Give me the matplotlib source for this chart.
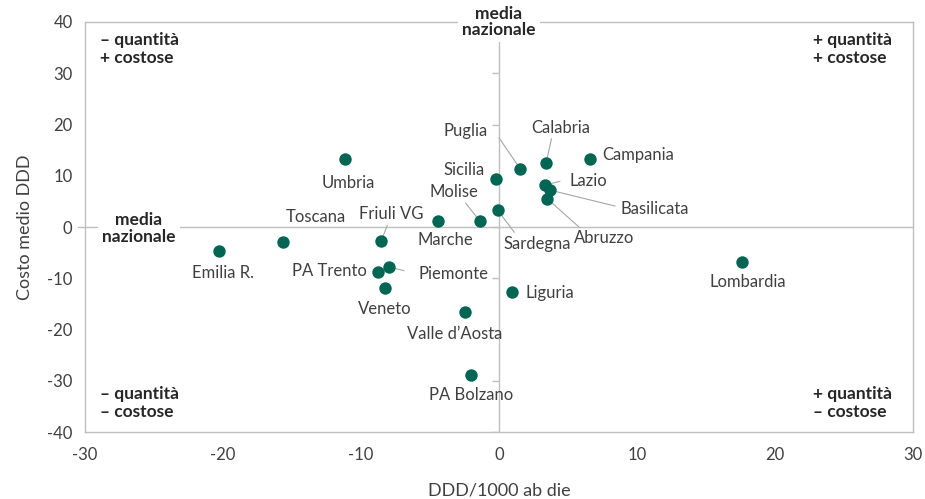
import numpy as np
import matplotlib.pyplot as plt

# Data ----------------------------------------------------
regioni = ['Emilia R.', 'Toscana', 'Umbria', 'Friuli VG', 'PA Trento',
           'Piemonte', 'Veneto', 'Marche', 'Molise', 'Sicilia', 'Sardegna',
           'Puglia', 'Calabria', 'Campania', 'Lazio', 'Basilicata',
           'Abruzzo', 'Liguria', "Valle d\u2019Aosta", 'PA Bolzano',
           'Lombardia']
ddd = [-20.3, -15.65, -11.15, -8.55, -8.8, -8.0, -8.3, -4.4, -1.4, -0.2,
       -0.1, 1.55, 3.4, 6.6, 3.3, 3.7, 3.5, 0.95, -2.5, -2.0, 17.6]
costo = [-4.7, -2.9, 13.3, -2.8, -8.8, -7.8, -11.8, 1.2, 1.2, 9.4, 3.3,
         11.3, 12.4, 13.3, 8.2, 7.2, 5.5, -12.6, -16.6, -28.9, -6.9]

# label position (x, y, ha) and optional leader start
lab_pos = {
    'Emilia R.': (-20.0, -8.9, 'center'),
    'Toscana': (-13.3, 1.9, 'center'),
    'Umbria': (-10.9, 8.5, 'center'),
    'Friuli VG': (-7.8, 2.5, 'center'),
    'PA Trento': (-9.6, -8.5, 'right'),
    'Piemonte': (-3.3, -9.1, 'center'),
    'Veneto': (-8.3, -15.9, 'center'),
    'Marche': (-3.9, -2.5, 'center'),
    'Molise': (-3.3, 6.9, 'center'),
    'Sicilia': (-2.5, 11.2, 'center'),
    'Sardegna': (2.8, -3.4, 'center'),
    'Puglia': (-2.4, 18.8, 'center'),
    'Calabria': (4.5, 19.4, 'center'),
    'Campania': (7.5, 14.0, 'left'),
    'Lazio': (5.1, 8.9, 'left'),
    'Basilicata': (8.8, 3.5, 'left'),
    'Abruzzo': (7.6, -2.1, 'center'),
    'Liguria': (1.95, -12.8, 'left'),
    "Valle d\u2019Aosta": (-3.2, -20.8, 'center'),
    'PA Bolzano': (-2.0, -32.7, 'center'),
    'Lombardia': (18.0, -10.8, 'center'),
}
leaders = {
    'Puglia': (0.0, 17.4),
    'Calabria': (3.8, 17.2),
    'Lazio': (4.4, 8.9),
    'Basilicata': (8.4, 4.1),
    'Abruzzo': (5.8, 0.0),
    'Sardegna': (1.1, -1.0),
    'Molise': (-2.4, 4.6),
    'Friuli VG': (-8.1, 0.3),
    'Piemonte': (-6.9, -8.5),
}

xticks = [-30, -20, -10, 0, 10, 20, 30]
yticks = [-40, -30, -20, -10, 0, 10, 20, 30, 40]

# Style ---------------------------------------------------
plt.rcParams['font.family'] = ['Lato', 'DejaVu Sans']
plt.rcParams['axes.unicode_minus'] = False
txt = '#404040'
grey = '#bfbfbf'
dot = '#006654'

fig = plt.figure(figsize=(9.25, 4.99), dpi=100)
ax = fig.add_axes([0.092, 0.134, 0.895, 0.822])
ax.set_xlim(-30, 30)
ax.set_ylim(-40, 40)

for sp in ax.spines.values():
    sp.set_color(grey)
    sp.set_linewidth(1)

# zero lines
ax.axhline(0, xmin=-0.008, color=grey, lw=1, zorder=1, clip_on=False)
ax.axvline(0, color=grey, lw=1, zorder=1)
ax.plot(np.full(len(yticks), 0.0), yticks, ls='none', marker=0,
        ms=5, mew=1, color=grey, zorder=1)

ax.set_xticks(xticks)
ax.set_yticks(yticks)
ax.tick_params(length=0, labelsize=12, labelcolor=txt)
ax.tick_params(axis='y', pad=9)
ax.tick_params(axis='x', pad=11)
ax.set_xlabel('DDD/1000 ab die', fontsize=13, color=txt, labelpad=14)
ax.set_ylabel('Costo medio DDD', fontsize=13, color=txt, labelpad=10)

# leader lines
for r, (lx, ly) in leaders.items():
    i = regioni.index(r)
    ax.plot([lx, ddd[i]], [ly, costo[i]], color='#a6a6a6', lw=0.8, zorder=2)

ax.scatter(ddd, costo, s=80, color=dot, zorder=3, linewidths=0)

for i, r in enumerate(regioni):
    x, y, ha = lab_pos[r]
    ax.text(x, y, r, ha=ha, va='center', fontsize=12, color=txt, zorder=4)

# reference labels
bb = dict(facecolor='white', edgecolor='none', pad=3)
ax.text(0, 40.0, 'media\nnazionale', ha='center', va='center',
        fontsize=12.5, fontweight='bold', color='#262626', linespacing=1.05,
        bbox=bb, zorder=5, clip_on=False)
ax.text(-26.1, -0.3, 'media\nnazionale', ha='center', va='center',
        fontsize=12.5, fontweight='bold', color='#262626', linespacing=1.05,
        bbox=bb, zorder=5)

quad = dict(fontsize=12.5, fontweight='bold', color='#262626',
            linespacing=1.15, transform=ax.transAxes)
ax.text(0.018, 0.975, '\u2013 quantit\u00e0\n+ costose', ha='left', va='top', **quad)
ax.text(0.879, 0.975, '+ quantit\u00e0\n+ costose', ha='left', va='top', **quad)
ax.text(0.018, 0.03, '\u2013 quantit\u00e0\n\u2013 costose', ha='left', va='bottom', **quad)
ax.text(0.879, 0.03, '+ quantit\u00e0\n\u2013 costose', ha='left', va='bottom', **quad)

plt.savefig('out.png', dpi=100)
